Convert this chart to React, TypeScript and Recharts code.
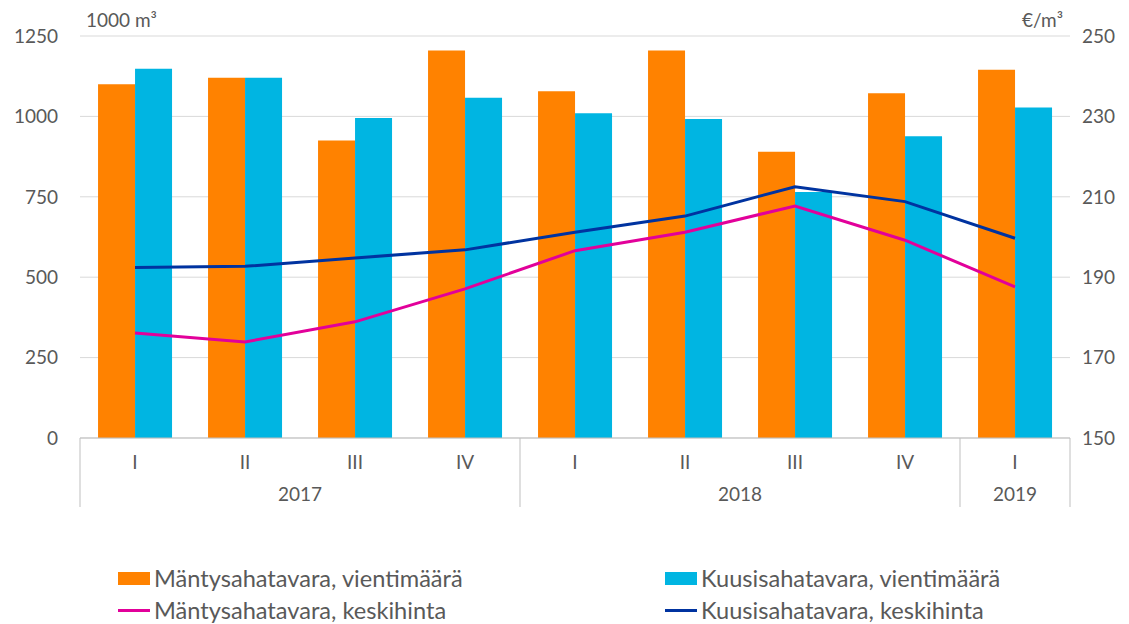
import { ComposedChart, Bar, Line, CartesianGrid, XAxis, YAxis, Legend } from 'recharts'

const quarters = ['I', 'II', 'III', 'IV', 'I', 'II', 'III', 'IV', 'I']
const years = ['2017', '2017', '2017', '2017', '2018', '2018', '2018', '2018', '2019']
const pineVolume = [1100, 1120, 925, 1205, 1078, 1205, 890, 1072, 1145]
const spruceVolume = [1148, 1120, 995, 1058, 1010, 992, 765, 938, 1028]
const pinePrice = [176.1, 173.9, 178.9, 187.1, 196.6, 201.2, 207.7, 199.2, 187.6]
const sprucePrice = [192.4, 192.7, 194.8, 196.8, 201.2, 205.2, 212.5, 208.8, 199.7]
const leftTicks = [0, 250, 500, 750, 1000, 1250]
const rightTicks = [150, 170, 190, 210, 230, 250]

const series = [
  { key: 'pineVolume', name: 'Mäntysahatavara, vientimäärä', color: '#FF8200', kind: 'bar' },
  { key: 'spruceVolume', name: 'Kuusisahatavara, vientimäärä', color: '#00B5E2', kind: 'bar' },
  { key: 'pinePrice', name: 'Mäntysahatavara, keskihinta', color: '#E2009A', kind: 'line' },
  { key: 'sprucePrice', name: 'Kuusisahatavara, keskihinta', color: '#0033A0', kind: 'line' },
]

const data = quarters.map((q, i) => ({
  q,
  year: years[i],
  pineVolume: pineVolume[i],
  spruceVolume: spruceVolume[i],
  pinePrice: pinePrice[i],
  sprucePrice: sprucePrice[i],
}))

const W = 1113
const H = 616
const LEFT_W = 72
const RIGHT_W = 51
const TOP = 28
const PLOT_W = W - LEFT_W - RIGHT_W
const BAND = PLOT_W / quarters.length
const TEXT = '#595959'
const FONT = 'Lato, "Open Sans", sans-serif'
const LEGEND_H = 64

function QuarterTick(props: any) {
  const { x, y, index } = props
  const year = years[index]
  const first = index === 0 || years[index - 1] !== year
  const last = index === years.length - 1
  const count = years.filter((v) => v === year).length
  const left = x - BAND / 2
  return (
    <g>
      <text x={x} y={y + 31} textAnchor="middle" fill={TEXT} fontSize={19} fontFamily={FONT}>
        {props.payload.value}
      </text>
      {first && (
        <>
          <line x1={left} x2={left} y1={y} y2={y + 69} stroke="#bfbfbf" />
          <text x={left + (count * BAND) / 2} y={y + 63} textAnchor="middle" fill={TEXT} fontSize={19} fontFamily={FONT}>
            {year}
          </text>
        </>
      )}
      {last && <line x1={x + BAND / 2} x2={x + BAND / 2} y1={y} y2={y + 69} stroke="#bfbfbf" />}
    </g>
  )
}

function LegendBox() {
  const pos = [
    { left: 110, top: 0 },
    { left: 657, top: 0 },
    { left: 110, top: 32 },
    { left: 657, top: 32 },
  ]
  return (
    <div style={{ position: 'relative', width: W, height: LEGEND_H, fontFamily: FONT, fontSize: 23.6, color: TEXT }}>
      {series.map((s, i) => (
        <div
          key={s.key}
          style={{ position: 'absolute', left: pos[i].left, top: pos[i].top, height: 30, display: 'flex', alignItems: 'center' }}
        >
          <span
            style={{
              display: 'inline-block',
              width: 32,
              height: s.kind === 'bar' ? 13 : 3,
              background: s.color,
              marginRight: 4,
            }}
          />
          <span style={{ whiteSpace: 'nowrap' }}>{s.name}</span>
        </div>
      ))}
    </div>
  )
}

export default function App() {
  return (
    <ComposedChart
      width={W}
      height={H}
      data={data}
      margin={{ top: TOP, right: 0, left: 0, bottom: 106 - LEGEND_H }}
      barCategoryGap="16.4%"
      barGap={0}
    >
      <CartesianGrid vertical={false} stroke="#d9d9d9" yAxisId="left" />
      <XAxis
        dataKey="q"
        height={80}
        interval={0}
        tickLine={false}
        tickSize={0}
        tickMargin={0}
        axisLine={{ stroke: '#bfbfbf' }}
        tick={<QuarterTick />}
      />
      <YAxis
        yAxisId="left"
        width={LEFT_W}
        domain={[0, 1250]}
        ticks={leftTicks}
        axisLine={false}
        tickLine={false}
        tickSize={0}
        tickMargin={22}
        tick={{ fill: TEXT, fontSize: 19, fontFamily: FONT }}
      />
      <YAxis
        yAxisId="right"
        orientation="right"
        width={RIGHT_W}
        domain={[150, 250]}
        ticks={rightTicks}
        axisLine={false}
        tickLine={false}
        tickSize={0}
        tickMargin={12}
        tick={{ fill: TEXT, fontSize: 19, fontFamily: FONT, textAnchor: 'start' }}
      />
      <Bar yAxisId="left" dataKey="pineVolume" name={series[0].name} fill={series[0].color} isAnimationActive={false} />
      <Bar yAxisId="left" dataKey="spruceVolume" name={series[1].name} fill={series[1].color} isAnimationActive={false} />
      <Line
        yAxisId="right"
        type="linear"
        dataKey="pinePrice"
        name={series[2].name}
        stroke={series[2].color}
        strokeWidth={3}
        dot={false}
        isAnimationActive={false}
      />
      <Line
        yAxisId="right"
        type="linear"
        dataKey="sprucePrice"
        name={series[3].name}
        stroke={series[3].color}
        strokeWidth={3}
        dot={false}
        isAnimationActive={false}
      />
      <text x={LEFT_W + 6} y={19} fill={TEXT} fontSize={19} fontFamily={FONT}>
        1000 m³
      </text>
      <text x={W - RIGHT_W - 7} y={19} fill={TEXT} fontSize={19} fontFamily={FONT} textAnchor="end">
        €/m³
      </text>
      <Legend content={<LegendBox />} wrapperStyle={{ position: 'absolute', left: 0, top: 555, width: W }} />
    </ComposedChart>
  )
}
